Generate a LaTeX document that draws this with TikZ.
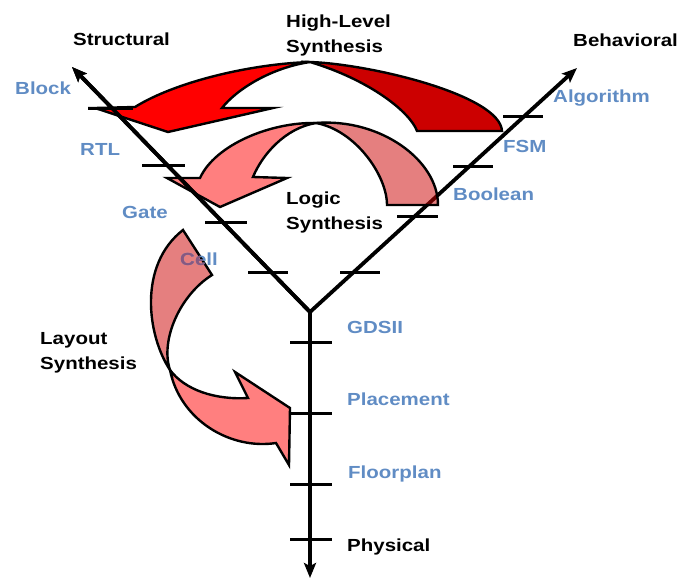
\documentclass[tikz,border=0pt]{standalone}
\usepackage{fontspec}
\setmainfont{Liberation Sans}
\usetikzlibrary{arrows.meta,calc}

\definecolor{lvlblue}{RGB}{96,140,196}
\definecolor{ribfront}{RGB}{255,0,0}
\definecolor{ribback}{RGB}{204,0,0}
\definecolor{cellmix}{RGB}{136,88,128}

% back half of the layout-synthesis ribbon (reused as a clip)
\newcommand\layoutbackpath{(170,370) .. controls (147,335) and (138,265) .. (183,230)
  -- (212,275) .. controls (180,295) and (160,340) .. (170,370) -- cycle}

\begin{document}
\begin{tikzpicture}[x=1pt,y=-1pt,
  axis/.style={line width=3.8pt},
  axistip/.style={-{Stealth[length=15pt,width=12pt,inset=3pt]}},
  tickmark/.style={line width=3pt},
  ribbon/.style={draw=black,line width=2.4pt,line join=miter},
  softribbon/.style={ribbon,fill opacity=0.5},
  lvl/.style={font=\fontsize{17.5}{25}\selectfont\bfseries,text=lvlblue,
    xscale=1.17,inner sep=0pt,anchor=base west},
  ttl/.style={lvl,text=black,align=left}]

\useasboundingbox (0,0) rectangle (680,579);

\coordinate (V) at (310,312);
\coordinate (L) at (72,67);
\coordinate (R) at (577,68);
\coordinate (D) at (310,578);

% the two upper axes, drawn first so the logic ribbon lies over the behavioural one
\draw[axis,{Stealth[length=15pt,width=12pt,inset=3pt]}-{Stealth[length=15pt,width=12pt,inset=3pt]}]
  (L) -- (V) -- (R);

% high-level synthesis ribbon
\coordinate (X1) at (310,62);
\filldraw[ribbon,fill=ribback] (X1) .. controls (370,64) and (500,95) .. (502,131)
  -- (417,131) .. controls (410,112) and (370,80) .. (X1) -- cycle;
\filldraw[ribbon,fill=ribfront] (X1) .. controls (250,64) and (175,82) .. (135,107)
  -- (95,108) -- (168,132) -- (273,108) -- (222,108)
  .. controls (236,90) and (270,68) .. (X1) -- cycle;

% logic synthesis ribbon
\coordinate (X2) at (316,123);
\filldraw[softribbon,fill=ribback] (X2) .. controls (380,118) and (438,160) .. (438,205)
  -- (387,205) .. controls (387,175) and (355,130) .. (X2) -- cycle;
\filldraw[softribbon,fill=ribfront] (X2) .. controls (270,122) and (215,145) .. (200,178)
  -- (167,178) -- (220,207) -- (287,178) -- (253,177)
  .. controls (262,155) and (285,128) .. (X2) -- cycle;

% layout synthesis ribbon
\coordinate (X3) at (170,370);
\filldraw[softribbon,fill=ribback] \layoutbackpath;
\filldraw[softribbon,fill=ribfront] (X3) .. controls (180,420) and (230,450) .. (276,443)
  -- (289,465) -- (290,408) -- (235,372) -- (248,398)
  .. controls (215,400) and (185,390) .. (X3) -- cycle;

% structural and physical axes on top
\draw[axis,axistip] (V) -- (L);
\draw[axis,axistip] (V) -- (D);

% level ticks
\foreach \a/\b/\y in {88/133/108, 142/185/165, 205/247/222, 248/288/272,
                      503/543/116, 453/493/166, 397/438/216, 340/380/272,
                      290/332/342, 290/332/413, 290/332/484, 290/332/539}
  \draw[tickmark] (\a,\y) -- (\b,\y);

% axis names
\node[ttl] (structural) at (73,45) {Structural};
\node[ttl] (behavioral) at (573,46) {Behavioral};
\node[ttl] (physical) at (347,551) {Physical};

% synthesis names
\node[ttl,anchor=north west] (hls) at (286,15) {High-Level\\Synthesis};
\node[ttl,anchor=north west] (ls) at (286,191.5) {Logic\\Synthesis};
\node[ttl,anchor=north west] (lay) at (40,332) {Layout\\Synthesis};

% abstraction levels
\node[lvl] (block) at (15,94) {Block};
\node[lvl] (rtl) at (80,155) {RTL};
\node[lvl] (gate) at (122,218) {Gate};
\node[lvl] (cell) at (180,265) {Cell};
\begin{scope}
  \clip \layoutbackpath;
  \node[lvl,text=cellmix] (cellshade) at (180,265) {Cell};
\end{scope}
\node[lvl] (algorithm) at (553,102) {Algorithm};
\node[lvl] (fsm) at (503,152) {FSM};
\node[lvl] (boolean) at (453,200) {Boolean};
\node[lvl] (gdsii) at (347,333) {GDSII};
\node[lvl] (placement) at (347,405) {Placement};
\node[lvl] (floorplan) at (348,478) {Floorplan};

\end{tikzpicture}
\end{document}
